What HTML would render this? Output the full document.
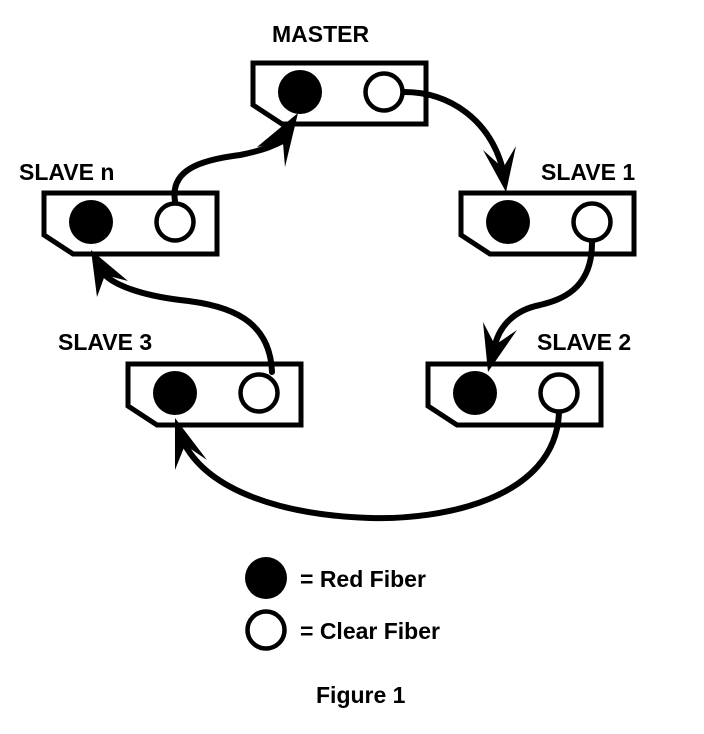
<!DOCTYPE html>
<html><head><style>body{margin:0;background:#fff}svg{display:block}text{font-family:"Liberation Sans",sans-serif;font-weight:bold;font-size:23px;fill:#000}</style></head>
<body>
<svg width="704" height="734" viewBox="0 0 704 734" xmlns="http://www.w3.org/2000/svg">
<defs>
<g id="box">
<path d="M0,0 H173 V61 H29 L0,42 Z" fill="#fff" stroke="#000" stroke-width="5"/>
<circle cx="47" cy="29" r="22" fill="#000"/>
<circle cx="131" cy="29" r="18.5" fill="#fff" stroke="#000" stroke-width="4.5"/>
</g>
</defs>
<use href="#box" x="253" y="63"/>
<use href="#box" x="44" y="193"/>
<use href="#box" x="461" y="193"/>
<use href="#box" x="128" y="364"/>
<use href="#box" x="428" y="364"/>
<g fill="none" stroke="#000" stroke-width="6" stroke-linecap="round">
<path d="M404,92 C450,92 490,120 503,170"/>
<path d="M175,201 C170,170 200,160 240,155 C265,150 275,145 285,140"/>
<path d="M592,243 C592,290 560,300 540,305 C515,310 500,325 495,345"/>
<path d="M559,413 C555,500 440,520 370,518 C280,515 210,490 185,445"/>
<path d="M272,372 C270,320 230,305 180,300 C140,295 115,285 105,275"/>
</g>
<g fill="#000">
<polygon points="506,192 483,150 503,168 516,146"/>
<polygon points="298,113 257,147 283,143 285,167"/>
<polygon points="488,372 483,322 495,345 517,330"/>
<polygon points="175,418 175,470 185,445 207,460"/>
<polygon points="91,250 97,297 105,275 128,281"/>
</g>
<text x="272" y="42">MASTER</text>
<text x="19" y="180">SLAVE n</text>
<text x="541" y="180">SLAVE 1</text>
<text x="58" y="350">SLAVE 3</text>
<text x="537" y="350">SLAVE 2</text>
<circle cx="266" cy="578" r="21" fill="#000"/>
<circle cx="266" cy="630" r="18.5" fill="#fff" stroke="#000" stroke-width="4.5"/>
<text x="300" y="587">= Red Fiber</text>
<text x="300" y="639">= Clear Fiber</text>
<text x="316" y="703">Figure 1</text>
</svg>
</body></html>
